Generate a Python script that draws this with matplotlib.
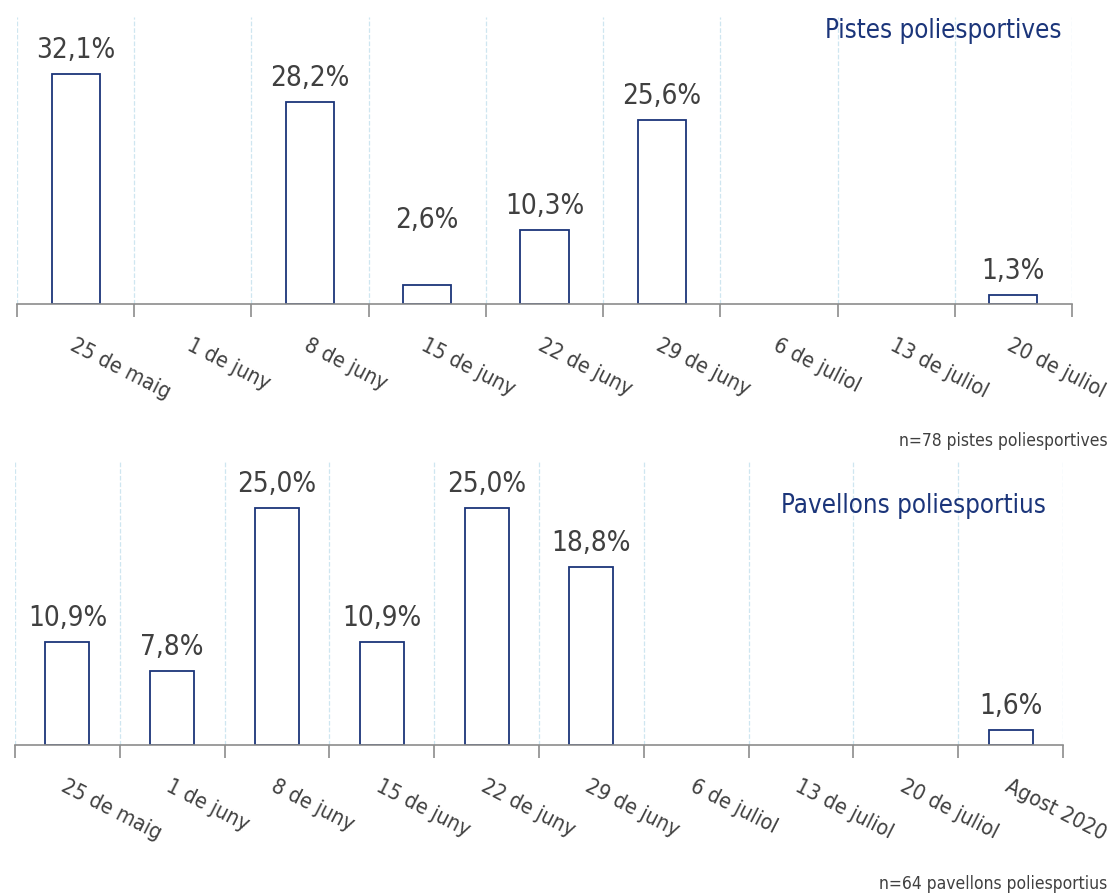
import numpy as np
import matplotlib.pyplot as plt

# Data
cats_top = ["25 de maig", "1 de juny", "8 de juny", "15 de juny", "22 de juny",
            "29 de juny", "6 de juliol", "13 de juliol", "20 de juliol"]
vals_top = [32.1, 0, 28.2, 2.6, 10.3, 25.6, 0, 0, 1.3]

cats_bot = ["25 de maig", "1 de juny", "8 de juny", "15 de juny", "22 de juny",
            "29 de juny", "6 de juliol", "13 de juliol", "20 de juliol", "Agost 2020"]
vals_bot = [10.9, 7.8, 25.0, 10.9, 25.0, 18.8, 0, 0, 0, 1.6]

navy = "#1b357a"
grey_txt = "#404040"
plt.rcParams['font.family'] = ['DejaVu Sans']
plt.rcParams['font.stretch'] = 'condensed'

fig = plt.figure(figsize=(11.11, 8.95), dpi=100)
ax1 = fig.add_axes([0.0153, 0.6592, 0.9496, 0.3207])
ax2 = fig.add_axes([0.0135, 0.1665, 0.9433, 0.3173])


def draw_panel(ax, cats, vals, ymax, title, title_pos, width, extra_off):
    n = len(cats)
    x = np.arange(n)
    for b in np.arange(n + 1) - 0.5:
        ax.axvline(b, color="#cfe6f0", linestyle="--", linewidth=0.9, zorder=0)
    edges = [navy if v > 0 else "none" for v in vals]
    ax.bar(x, vals, width=width, facecolor="white", edgecolor=edges, linewidth=1.3, zorder=2)
    for xi, v, off in zip(x, vals, extra_off):
        if v > 0:
            ax.annotate(f"{v:.1f}%".replace(".", ","), (xi, v), xytext=(0, 8 + off),
                        textcoords="offset points", ha="center", va="bottom",
                        fontsize=20, color=grey_txt)
    ax.set_xlim(-0.5, n - 0.5)
    ax.set_ylim(0, ymax)
    ax.set_yticks([])
    ax.set_xticks(np.arange(n + 1) - 0.5)
    ax.set_xticklabels([])
    ax.set_xticks(x, minor=True)
    ax.set_xticklabels(cats, minor=True, rotation=-27, ha="left", rotation_mode="anchor",
                       fontsize=15.5, color=grey_txt)
    ax.tick_params(axis="x", which="major", length=9, color="#8c8c8c", width=1.2)
    ax.tick_params(axis="x", which="minor", length=0, pad=22)
    for s in ["top", "right", "left"]:
        ax.spines[s].set_visible(False)
    ax.spines["bottom"].set_color("#8c8c8c")
    ax.spines["bottom"].set_linewidth(1.2)
    ax.text(title_pos[0], title_pos[1], title, transform=ax.transAxes, ha="right", va="top",
            fontsize=18.5, color=navy)


draw_panel(ax1, cats_top, vals_top, 40, "Pistes poliesportives", (0.9905, 1.0), 0.41,
           [0, 0, 0, 30, 0, 0, 0, 0, 0])
draw_panel(ax2, cats_bot, vals_bot, 30, "Pavellons poliesportius", (0.984, 0.89), 0.42,
           [0] * 10)

fig.text(0.997, 0.507, "n=78 pistes poliesportives", ha="right", va="center",
         fontsize=12.5, color=grey_txt)
fig.text(0.997, 0.012, "n=64 pavellons poliesportius", ha="right", va="center",
         fontsize=12.5, color=grey_txt)

fig.savefig("out.png", dpi=100)
